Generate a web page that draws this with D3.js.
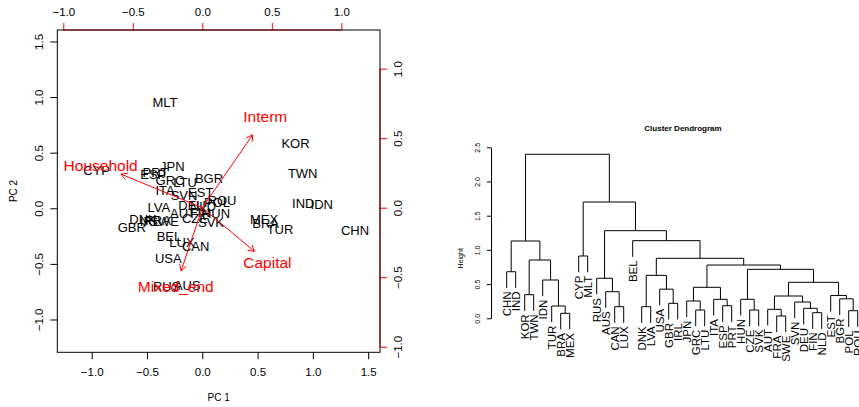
<!DOCTYPE html>
<html>
<head>
<meta charset="utf-8">
<script src="https://cdn.jsdelivr.net/npm/d3@7"></script>
<style>
  body { margin: 0; background: #fff; }
  svg { display: block; font-family: "Liberation Sans", Arial, Helvetica, sans-serif; }
</style>
</head>
<body>
<svg id="chart" width="859" height="407"></svg>
<script>
// ---- biplot data (PC scores of the countries) ----
var countries = ["AUS","AUT","BEL","BGR","BRA","CAN","CHN","CYP","CZE","DEU",
                 "DNK","ESP","EST","FIN","FRA","GBR","GRC","HUN","IDN","IND",
                 "IRL","ITA","JPN","KOR","LTU","LUX","LVA","MEX","MLT","NLD",
                 "POL","PRT","ROU","RUS","SVK","SVN","SWE","TUR","TWN","USA"];
var pc1 = [-0.136,-0.174,-0.301, 0.061, 0.573,-0.060, 1.381,-0.955,-0.066,-0.093,
           -0.536,-0.443,-0.014,-0.021,-0.401,-0.638,-0.292, 0.124, 1.080, 0.913,
           -0.473,-0.337,-0.271, 0.843,-0.156,-0.184,-0.392, 0.558,-0.337, 0.006,
            0.133,-0.423, 0.178,-0.322, 0.079,-0.165,-0.346, 0.703, 0.908,-0.307];
var pc2 = [-0.692,-0.051,-0.255, 0.270,-0.135,-0.345,-0.195, 0.344,-0.087, 0.025,
           -0.096, 0.308, 0.144,-0.042,-0.105,-0.174, 0.250,-0.047, 0.036, 0.045,
           -0.114, 0.158, 0.374, 0.585, 0.234,-0.309, 0.009,-0.096, 0.953, 0.012,
            0.048, 0.322, 0.066,-0.699,-0.126, 0.113,-0.114,-0.189, 0.315,-0.450];

// loadings (variables)
var loadNames = ["Household","Interm","Capital","Mixed_end"];
var load1 = [-0.731, 0.453, 0.468, -0.191];
var load2 = [ 0.302, 0.655, -0.393, -0.569];

var pcTicks = [-1, -0.5, 0, 0.5, 1, 1.5];
var loadTicks = [-1, -0.5, 0, 0.5, 1];

// ---- dendrogram data ----
var leafOrder = ["CHN","IND","KOR","TWN","IDN","TUR","BRA","MEX","CYP","MLT",
                 "RUS","AUS","CAN","LUX","BEL","DNK","LVA","USA","GBR","IRL",
                 "JPN","GRC","LTU","ITA","ESP","PRT","HUN","CZE","SVK","AUT",
                 "FRA","SWE","SVN","DEU","FIN","NLD","EST","BGR","POL","ROU"];
// [left, right, height]; a number refers to an earlier merge
var merges = [
  ["FRA","SWE",0.034], ["BRA","MEX",0.073], ["FIN","NLD",0.082], ["POL","ROU",0.111],
  ["GRC","LTU",0.121], ["CZE","SVK",0.121], ["AUT",0,0.131],     ["DEU",2,0.146],
  ["CAN","LUX",0.170], ["DNK","LVA",0.170], ["TUR",1,0.180],     ["ESP","PRT",0.184],
  ["GBR","IRL",0.219], ["SVN",7,0.238],     ["JPN",4,0.253],     ["ITA",11,0.278],
  ["HUN",5,0.278],     ["BGR",3,0.285],     [6,13,0.326],        ["EST",17,0.334],
  ["KOR","TWN",0.345], ["AUS",8,0.389],     ["USA",12,0.426],    [14,15,0.453],
  [18,19,0.526],       ["IDN",10,0.560],    ["RUS",21,0.585],    [9,22,0.628],
  ["CHN","IND",0.681], [16,24,0.716],       [23,29,0.779],       [20,25,0.852],
  [27,30,0.877],       ["CYP","MLT",0.911], [28,31,1.130],       ["BEL",32,1.135],
  [26,35,1.281],       [33,36,1.700],       [34,37,2.398]
];
var heightTicks = [0, 0.5, 1, 1.5, 2, 2.5];

var svg = d3.select("#chart");
var red = "#ff0000";
var fmt = d3.format(".1f");

// ================= biplot =================
var box = {l: 57.3, r: 380, t: 30, b: 352.3};
var x1 = d3.scaleLinear().domain([-1.311, 1.607]).range([box.l, box.r]);
var y1 = d3.scaleLinear().domain([-1.295, 1.603]).range([box.b, box.t]);
var x2 = d3.scaleLinear().domain([-1.043, 1.278]).range([box.l, box.r]);
var y2 = d3.scaleLinear().domain([-1.040, 1.278]).range([box.b, box.t]);

function styleAxis(g, color, size) {
  g.select(".domain").remove();
  g.attr("font-family", null).attr("font-size", size);
  g.selectAll(".tick line").attr("stroke", color);
  g.selectAll(".tick text").attr("fill", "#000");
}

// bottom axis
var gb = svg.append("g").attr("transform", "translate(0," + box.b + ")")
  .call(d3.axisBottom(x1).tickValues(pcTicks).tickFormat(fmt).tickSize(7).tickSizeOuter(0));
styleAxis(gb, "#000", 11.5);
gb.selectAll(".tick text").attr("y", 19.7).attr("dy", "0.35em");

// left axis
var gl = svg.append("g").attr("transform", "translate(" + box.l + ",0)")
  .call(d3.axisLeft(y1).tickValues(pcTicks).tickFormat(fmt).tickSize(7).tickSizeOuter(0));
styleAxis(gl, "#000", 11.5);
gl.selectAll(".tick text").attr("x", 0).attr("dy", "0.35em")
  .attr("text-anchor", "middle").attr("transform", "translate(-18,0) rotate(-90)");

// axis titles
svg.append("text").attr("x", 218.6).attr("y", 397).attr("text-anchor", "middle")
  .attr("font-size", 10).attr("dy", "0.35em").text("PC 1");
svg.append("text").attr("transform", "translate(13,191) rotate(-90)")
  .attr("text-anchor", "middle").attr("font-size", 10).attr("dy", "0.35em").text("PC 2");

// country labels
svg.append("g").selectAll("text").data(countries).enter().append("text")
  .attr("x", function(d, i) { return x1(pc1[i]); })
  .attr("y", function(d, i) { return y1(pc2[i]); })
  .attr("dy", "0.35em")
  .attr("text-anchor", "middle")
  .attr("font-size", 13)
  .attr("fill", "#000")
  .text(function(d) { return d; });

// top + right axes for the loadings (red)
var gt = svg.append("g").attr("transform", "translate(0," + box.t + ")")
  .call(d3.axisTop(x2).tickValues(loadTicks).tickFormat(fmt).tickSize(7).tickSizeOuter(0));
styleAxis(gt, red, 11.5);
gt.selectAll(".tick text").attr("y", -18.5).attr("dy", "0.35em");
gt.append("line").attr("x1", x2(-1)).attr("x2", x2(1)).attr("stroke", red);

var gr = svg.append("g").attr("transform", "translate(" + box.r + ",0)")
  .call(d3.axisRight(y2).tickValues(loadTicks).tickFormat(fmt).tickSize(7).tickSizeOuter(0));
styleAxis(gr, red, 11.5);
gr.selectAll(".tick text").attr("x", 0).attr("dy", "0.35em")
  .attr("text-anchor", "middle").attr("transform", "translate(18,0) rotate(-90)");
gr.append("line").attr("y1", y2(-1)).attr("y2", y2(1)).attr("stroke", red);

// box
svg.append("rect").attr("x", box.l).attr("y", box.t)
  .attr("width", box.r - box.l).attr("height", box.b - box.t)
  .attr("fill", "none").attr("stroke", "#000");

// loading labels
svg.append("g").selectAll("text").data(loadNames).enter().append("text")
  .attr("x", function(d, i) { return x2(load1[i]); })
  .attr("y", function(d, i) { return y2(load2[i]); })
  .attr("dy", "0.35em")
  .attr("text-anchor", "middle")
  .attr("font-size", 15.5)
  .attr("fill", red)
  .text(function(d) { return d; });

// arrows (to 0.8 of the loading)
var arrows = svg.append("g").attr("stroke", red).attr("fill", "none");
loadNames.forEach(function(d, i) {
  var x0 = x2(0), yy0 = y2(0);
  var xe = x2(load1[i] * 0.8), ye = y2(load2[i] * 0.8);
  var ang = Math.atan2(ye - yy0, xe - x0), len = 7, a = Math.PI / 6;
  arrows.append("path").attr("d",
    "M" + x0 + "," + yy0 + "L" + xe + "," + ye +
    "M" + (xe - len * Math.cos(ang - a)) + "," + (ye - len * Math.sin(ang - a)) +
    "L" + xe + "," + ye +
    "L" + (xe - len * Math.cos(ang + a)) + "," + (ye - len * Math.sin(ang + a)));
});

// ================= dendrogram =================
var xd = d3.scaleLinear().domain([1, leafOrder.length]).range([506.7, 857.7]);
var yd = d3.scaleLinear().domain([0, 2.5]).range([318.3, 147.3]);
var maxH = d3.max(merges, function(m) { return m[2]; });
var minH = d3.min(merges, function(m) { return m[2]; });
var hang = 0.1 * (maxH - minH);

// build the tree from the merges
var built = [];
merges.forEach(function(m) {
  var kids = [m[0], m[1]].map(function(c) {
    return typeof c === "number" ? built[c] : {name: c, h: null};
  });
  built.push({name: null, h: m[2], children: kids});
});
var root = d3.hierarchy(built[built.length - 1]);

root.eachAfter(function(n) {
  if (!n.children) {
    n.px = xd(leafOrder.indexOf(n.data.name) + 1);
  } else {
    n.px = d3.mean(n.children, function(c) { return c.px; });
  }
});

function childY(c) {
  return c.children ? yd(c.data.h) : yd(c.parent.data.h - hang);
}

var dg = svg.append("g").attr("stroke", "#000").attr("fill", "none");
root.descendants().filter(function(n) { return n.children; }).forEach(function(n) {
  var a = n.children[0], b = n.children[1], yn = yd(n.data.h);
  dg.append("path").attr("d",
    "M" + a.px + "," + childY(a) + "V" + yn + "H" + b.px + "V" + childY(b));
});

svg.append("g").selectAll("text").data(root.leaves()).enter().append("text")
  .attr("transform", function(n) {
    return "translate(" + n.px + "," + (childY(n) + 3.5) + ") rotate(-90)";
  })
  .attr("dy", "0.35em")
  .attr("text-anchor", "end")
  .attr("font-size", 11.5)
  .text(function(n) { return n.data.name; });

// height axis
var gh = svg.append("g").attr("transform", "translate(491,0)")
  .call(d3.axisLeft(yd).tickValues(heightTicks).tickFormat(fmt).tickSize(4).tickSizeOuter(0));
gh.attr("font-family", null).attr("font-size", 7);
gh.selectAll(".tick text").attr("x", 0).attr("dy", "0.35em")
  .attr("text-anchor", "middle").attr("transform", "translate(-13,0) rotate(-90)");

svg.append("text").attr("transform", "translate(461,258.3) rotate(-90)")
  .attr("text-anchor", "middle").attr("dy", "0.35em").attr("font-size", 7).text("Height");

svg.append("text").attr("x", 683).attr("y", 128.3).attr("dy", "0.35em")
  .attr("text-anchor", "middle").attr("font-size", 8).attr("font-weight", "bold")
  .text("Cluster Dendrogram");
</script>
</body>
</html>
